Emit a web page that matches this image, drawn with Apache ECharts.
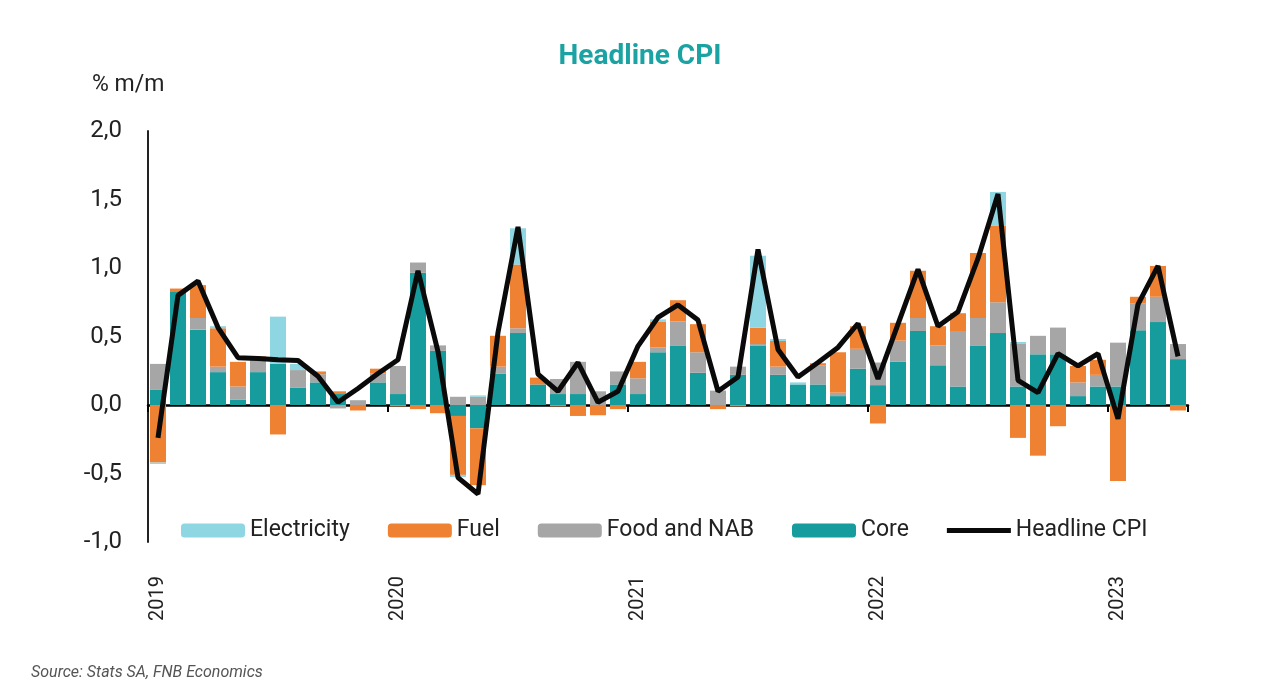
<!DOCTYPE html>
<html>
<head>
<meta charset="utf-8">
<script src="https://cdn.jsdelivr.net/npm/echarts@6/dist/echarts.min.js"></script>
<style>
html,body{margin:0;padding:0;background:#fff;}
#chart{width:1280px;height:700px;}
</style>
</head>
<body>
<div id="chart"></div>
<script>
const months = [
 'Jan 2019','Feb 2019','Mar 2019','Apr 2019','May 2019','Jun 2019','Jul 2019','Aug 2019','Sep 2019','Oct 2019','Nov 2019','Dec 2019',
 'Jan 2020','Feb 2020','Mar 2020','Apr 2020','May 2020','Jun 2020','Jul 2020','Aug 2020','Sep 2020','Oct 2020','Nov 2020','Dec 2020',
 'Jan 2021','Feb 2021','Mar 2021','Apr 2021','May 2021','Jun 2021','Jul 2021','Aug 2021','Sep 2021','Oct 2021','Nov 2021','Dec 2021',
 'Jan 2022','Feb 2022','Mar 2022','Apr 2022','May 2022','Jun 2022','Jul 2022','Aug 2022','Sep 2022','Oct 2022','Nov 2022','Dec 2022',
 'Jan 2023','Feb 2023','Mar 2023','Apr 2023'
];
const core = [
 0.11,0.83,0.55,0.24,0.04,0.24,0.30,0.125,0.165,0.08,0,0.165,
 0.08,0.965,0.395,-0.08,-0.17,0.23,0.525,0.15,0.08,0.08,0,0.15,
 0.08,0.385,0.435,0.235,0,0.22,0.435,0.22,0.15,0.15,0.065,0.265,
 0.145,0.315,0.54,0.29,0.135,0.435,0.525,0.135,0.37,0.37,0.065,0.135,
 0.135,0.545,0.605,0.335
];
const foodNab = [
 0.19,0,0.085,0.04,0.095,0.105,0,0.13,0.06,-0.025,0.035,0.065,
 0.205,0.075,0.04,0.06,0.06,0.05,0.035,0,0.11,0.235,0.10,0.095,
 0.115,0.035,0.175,0.15,0.105,0.06,0.01,0.06,0,0.14,0.025,0.145,
 0.165,0.155,0.095,0.145,0.405,0.20,0.225,0.315,0.135,0.195,0.10,0.085,
 0.32,0.195,0.185,0.11
];
const fuel = [
 -0.42,0.02,0.24,0.28,0.18,0.01,-0.215,0,0.02,0.02,-0.04,0.035,
 -0.01,-0.03,-0.06,-0.43,-0.415,0.225,0.465,0.05,-0.01,-0.08,-0.075,-0.03,
 0.12,0.19,0.155,0.205,-0.03,-0.01,0.12,0.187,0,0.015,0.295,0.165,
 -0.135,0.13,0.345,0.14,0.13,0.475,0.56,-0.24,-0.37,-0.155,0.12,0.11,
 -0.555,0.05,0.225,-0.04
];
const electricity = [
 -0.01,0,0,0.015,0,0,0.345,0.045,0,0,0,0,
 0,0,0,-0.015,0.01,0,0.265,0,0,0,0,0,
 0,0.015,0,0,0,0,0.525,0.015,0.015,0,0,0,
 0,0,0,0,0,0,0.245,0.01,0,0,0,0,
 0,0,0,0
];
const headline = [
 -0.24,0.80,0.905,0.565,0.345,0.34,0.33,0.325,0.21,0.02,0.12,0.23,
 0.33,0.98,0.39,-0.53,-0.65,0.53,1.30,0.225,0.10,0.31,0.02,0.10,
 0.43,0.64,0.73,0.62,0.10,0.205,1.135,0.405,0.205,0.31,0.42,0.595,
 0.19,0.59,0.99,0.575,0.68,1.07,1.54,0.18,0.09,0.375,0.285,0.375,
 -0.10,0.735,1.015,0.355
];
const yTicks = { min: -1, max: 2, interval: 0.5 };

const chart = echarts.init(document.getElementById('chart'));
const FONT = 'Roboto';
const barCommon = { type: 'bar', stack: 'cpi', barCategoryGap: '20%' };
chart.setOption({
  animation: false,
  backgroundColor: '#ffffff',
  title: {
    text: 'Headline CPI', left: 'center', top: 38,
    textStyle: { color: '#1ba3a3', fontSize: 28, fontWeight: 'bold', fontFamily: FONT }
  },
  graphic: [
    { type: 'text', left: 92, top: 74, style: { text: '% m/m', fontSize: 23, fontFamily: FONT, fill: '#222' } },
    { type: 'text', left: 31, top: 665, style: { text: 'Source: Stats SA, FNB Economics', fontSize: 16, fontStyle: 'italic', fontFamily: FONT, fill: '#555' } }
  ],
  grid: { left: 148, right: 92, top: 131, bottom: 158, outerBoundsMode: 'none', containLabel: false },
  legend: {
    left: 181, top: 519, padding: 0,
    itemWidth: 64, itemHeight: 14, itemGap: 38, symbolKeepAspect: true,
    data: [
      'Electricity','Fuel','Food and NAB','Core',
      { name: 'Headline CPI', icon: 'path://M0,0h64v5h-64z', itemStyle: { color: '#0a0a0a' } }
    ],
    textStyle: { fontSize: 23, fontFamily: FONT, color: '#222', padding: [0,0,0,0] }
  },
  xAxis: {
    type: 'category', data: months,
    axisLine: { onZero: true, lineStyle: { color: '#000', width: 2.5 } },
    axisTick: { show: true, interval: function (i) { return i % 12 === 0; }, length: 7, lineStyle: { color: '#000', width: 2 } },
    axisLabel: {
      interval: function (i) { return i % 12 === 0; },
      formatter: function (v) { return v.slice(-4); },
      rotate: 90, margin: 34, fontSize: 20, fontFamily: FONT, color: '#222'
    },
    splitLine: { show: false }
  },
  yAxis: {
    type: 'value', min: yTicks.min, max: yTicks.max, interval: yTicks.interval,
    axisLine: { show: true, lineStyle: { color: '#222', width: 2 } },
    axisTick: { show: false },
    splitLine: { show: false },
    axisLabel: {
      margin: 26, fontSize: 24, fontFamily: FONT, color: '#222',
      formatter: function (v) { return v.toFixed(1).replace('.', ','); }
    }
  },
  series: [
    Object.assign({ name: 'Core', data: core, itemStyle: { color: '#169c9c' } }, barCommon),
    Object.assign({ name: 'Food and NAB', data: foodNab, itemStyle: { color: '#a6a6a6' } }, barCommon),
    Object.assign({ name: 'Fuel', data: fuel, itemStyle: { color: '#ef8132' } }, barCommon),
    Object.assign({ name: 'Electricity', data: electricity, itemStyle: { color: '#8ed6e2' } }, barCommon),
    { name: 'Headline CPI', type: 'line', data: headline, symbol: 'none', z: 10,
      lineStyle: { color: '#0a0a0a', width: 5 }, itemStyle: { color: '#0a0a0a' } }
  ]
});
</script>
</body>
</html>
